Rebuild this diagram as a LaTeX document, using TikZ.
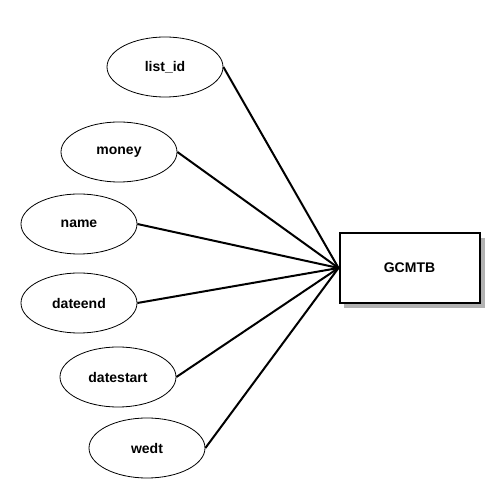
\documentclass[tikz,border=0pt]{standalone}
\usepackage{fontspec}
\setmainfont{Liberation Sans}
\usetikzlibrary{shapes.geometric}
\begin{document}
\begin{tikzpicture}[x=0.75pt,y=-0.75pt,
  attr/.style={ellipse,draw,line width=0.6pt,minimum width=87pt,minimum height=45pt,inner sep=0pt,font=\bfseries\fontsize{10.5pt}{12pt}\selectfont},
  ent/.style={draw,line width=1.5pt,fill=white,minimum width=105pt,minimum height=52pt,inner sep=0pt,font=\bfseries\fontsize{10.5pt}{12pt}\selectfont},
  link/.style={line width=1.5pt}]
\useasboundingbox (0,0) rectangle (500,498);
\fill[black!30] (344,238) rectangle (485,308);
\node[ent] (g) at (409.5,268) {GCMTB};
\node[attr] (a1) at (165,67) {list\_id};
\node[attr] (a2) at (119,152) {money};
\node[attr] (a3) at (79,224) {name};
\node[attr] (a4) at (79,303) {dateend};
\node[attr] (a5) at (118,377) {datestart};
\node[attr] (a6) at (147,448) {wedt};
\foreach \n in {a1,a2,a3,a4,a5,a6} \draw[link] (\n.east) -- (g.west);
\end{tikzpicture}
\end{document}
